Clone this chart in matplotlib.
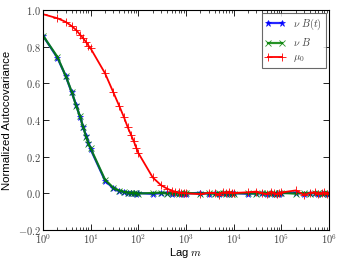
import math
import matplotlib
matplotlib.use('Agg')
import matplotlib.pyplot as plt
from matplotlib.ticker import FixedLocator, FuncFormatter, LogLocator, NullFormatter

plt.rcParams['mathtext.fontset'] = 'cm'
plt.rcParams['font.family'] = ['Liberation Sans', 'DejaVu Sans']

lags = [1, 2, 3, 4, 5, 6, 7, 8, 9,
        10, 20, 30, 40, 50, 60, 70, 80, 90,
        100, 200, 300, 400, 500, 600, 700, 800, 900,
        1000, 2000, 3000, 4000, 5000, 6000, 7000, 8000, 9000,
        10000, 20000, 30000, 40000, 50000, 60000, 70000, 80000, 90000,
        100000, 200000, 300000, 400000, 500000, 600000, 700000, 800000, 900000,
        1000000]

nu_bt = [0.86, 0.74, 0.64, 0.55, 0.48, 0.415, 0.36, 0.315, 0.275,
         0.24, 0.07, 0.027, 0.012, 0.006, 0.003, 0.001, 0.0, -0.002,
         0.002, -0.003, 0.001, 0.004, -0.002, 0.0, 0.003, -0.004, 0.001,
         -0.001, 0.003, -0.002, 0.002, -0.004, 0.001, 0.003, -0.002, 0.0,
         0.002, -0.003, 0.001, 0.0, -0.002, 0.003, -0.001, 0.002, -0.003,
         0.001, 0.004, -0.002, 0.0, 0.002, -0.003, 0.001, 0.003, -0.001,
         0.0]

nu_b = [0.86, 0.745, 0.64, 0.555, 0.475, 0.42, 0.36, 0.31, 0.27,
        0.245, 0.075, 0.03, 0.015, 0.008, 0.004, 0.002, 0.001, 0.0,
        -0.001, 0.002, 0.004, -0.002, 0.001, 0.003, -0.003, 0.002, 0.0,
        0.003, -0.002, 0.001, -0.003, 0.002, 0.004, -0.001, 0.002, -0.002,
        -0.001, 0.002, -0.003, 0.003, 0.001, -0.002, 0.004, -0.003, 0.001,
        0.003, -0.002, 0.002, -0.001, 0.003, 0.001, -0.002, 0.0, 0.002,
        -0.001]

mu0 = [0.977, 0.955, 0.935, 0.912, 0.89, 0.865, 0.845, 0.825, 0.805,
       0.79, 0.655, 0.55, 0.475, 0.415, 0.36, 0.32, 0.285, 0.25,
       0.22, 0.087, 0.044, 0.026, 0.015, 0.009, 0.005, 0.003, 0.002,
       0.0, -0.004, 0.003, 0.002, -0.008, 0.006, 0.004, 0.010, 0.004,
       0.002, 0.006, 0.010, 0.001, -0.004, 0.008, 0.003, -0.006, 0.002,
       0.005, 0.016, -0.008, 0.003, 0.006, -0.004, 0.002, 0.005, -0.002,
       0.0]

fig = plt.figure(figsize=(3.41, 2.62), dpi=100)
ax = fig.add_axes([0.126, 0.122, 0.839, 0.84])

ax.plot(lags, nu_bt, color='blue', marker='*', markersize=5, lw=1.6,
        markeredgewidth=0.5, alpha=0.85, label=r'$\nu\ B(t)$')
ax.plot(lags, nu_b, color='green', marker='x', markersize=4.5, lw=1.6,
        markeredgewidth=0.6, alpha=0.85, label=r'$\nu\ B$')
ax.plot(lags, mu0, color='red', marker='+', markersize=6, lw=1.3,
        markeredgewidth=0.6, label=r'$\mu_0$')

ax.set_xscale('log')
ax.set_xlim(1, 1e6)
ax.set_ylim(-0.2, 1.0)

ax.xaxis.set_major_locator(FixedLocator([10 ** k for k in range(7)]))
ax.xaxis.set_major_formatter(FuncFormatter(lambda v, p: r'$10^{%d}$' % round(math.log10(v))))
ax.xaxis.set_minor_locator(LogLocator(base=10, subs=range(2, 10), numticks=20))
ax.xaxis.set_minor_formatter(NullFormatter())

yt = [-0.2, 0.0, 0.2, 0.4, 0.6, 0.8, 1.0]
ax.yaxis.set_major_locator(FixedLocator(yt))
ax.yaxis.set_major_formatter(FuncFormatter(lambda v, p: r'$%.1f$' % v))

ax.tick_params(which='both', direction='in', top=True, right=True,
               labelsize=7.5, labelcolor='#444444')
ax.tick_params(axis='x', pad=1.5)
ax.tick_params(axis='y', pad=1.5)
ax.tick_params(which='major', length=4, width=0.6)
ax.tick_params(which='minor', length=2, width=0.5)

ax.set_xlabel(r'Lag $m$', fontsize=8, labelpad=0)
ax.set_ylabel('Normalized Autocovariance', fontsize=8.2, labelpad=4)

leg = ax.legend(loc='upper right', fontsize=7.5, numpoints=2, fancybox=False,
                borderaxespad=0.3, handlelength=1.9, labelspacing=0.4,
                handletextpad=0.8, borderpad=0.35)
leg.get_frame().set_edgecolor('#444444')
leg.get_frame().set_linewidth(0.8)
for t in leg.get_texts():
    t.set_color('#444444')

fig.savefig('out.png', dpi=100)
